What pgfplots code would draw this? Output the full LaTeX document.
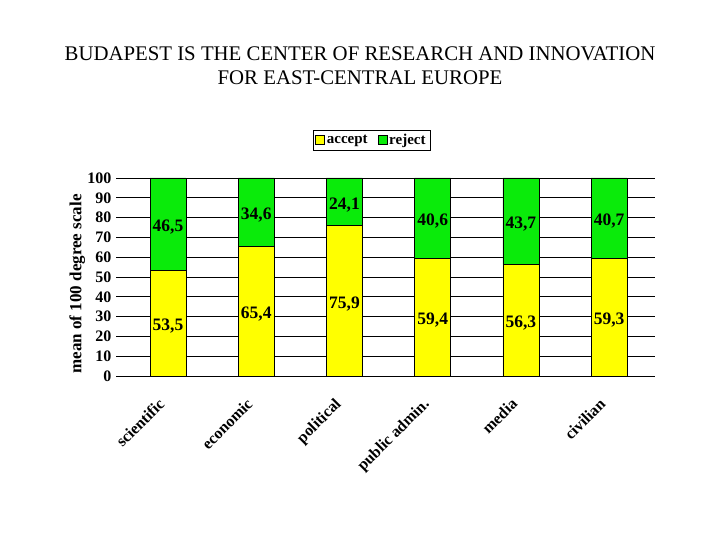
\documentclass[border=0pt]{standalone}
\usepackage{fontspec}
\setmainfont{Liberation Serif}
\usepackage{pgfplots}
\usepackage{pgfplotstable}
\pgfplotsset{compat=1.18}
\definecolor{acc}{RGB}{255,255,0}
\definecolor{rej}{RGB}{10,235,10}

\pgfplotstableread{
x accept reject
0 53.5 46.5
1 65.4 34.6
2 75.9 24.1
3 59.4 40.6
4 56.3 43.7
5 59.3 40.7
}\data

\pgfplotsset{
  common/.style={
    at={(116bp,164bp)}, anchor=south west,
    scale only axis, width=539bp, height=198bp,
    xmin=-0.59, xmax=5.52, ymin=0, ymax=100,
    /pgf/number format/assume math mode=true,
  }
}

\begin{document}
\begin{tikzpicture}
\useasboundingbox (0bp,0bp) rectangle (720bp,540bp);
\node[anchor=base, font=\fontsize{20.8bp}{24bp}\selectfont] at (360bp,479bp) {BUDAPEST IS THE CENTER OF RESEARCH AND INNOVATION};
\node[anchor=base, font=\fontsize{20.8bp}{24bp}\selectfont] at (360bp,455bp) {FOR EAST-CENTRAL EUROPE};
\begin{axis}[
  common,
  ybar stacked, bar width=0.408,
  axis x line*=bottom, axis y line*=left,
  y axis line style={draw=none},
  x axis line style={black, line width=0.8bp, -},
  ytick={0,10,...,100},
  ytick style={draw=none},
  yticklabel style={font=\bfseries\fontsize{16bp}{16bp}\selectfont, xshift=-1bp},
  ymajorgrids, grid style={black, line width=0.8bp},
  xtick=data,
  xticklabels={scientific,economic,political,public admin.,media,civilian},
  x tick style={draw=none},
  xticklabel style={font=\bfseries\fontsize{16bp}{16bp}\selectfont, rotate=45, anchor=north east, yshift=-4bp, xshift=-19bp},
  extra x ticks={0.5,1.5,4.5},
  extra x tick labels={},
  extra x tick style={tick align=outside, major tick length=7bp, tick style={draw=black, line width=0.8bp}, grid=none},
  ylabel={mean of 100 degree scale},
  ylabel style={font=\bfseries\fontsize{17bp}{17bp}\selectfont, at={(axis description cs:-0.072,0.465)}, anchor=center},
  legend columns=2,
  legend style={at={(0.474,1.19)}, anchor=center, draw=black, line width=0.8bp, font=\bfseries\fontsize{15bp}{15bp}\selectfont, inner sep=2.5bp, /tikz/every even column/.append style={column sep=8bp}},
  legend image code/.code={\draw[#1, draw=black, line width=0.5bp] (0bp,-4bp) rectangle (9bp,5bp);},
]
\addplot[fill=acc, draw=black, line width=0.6bp] table[x=x, y=accept]{\data};
\addplot[fill=rej, draw=black, line width=0.6bp] table[x=x, y=reject]{\data};
\legend{accept, reject}
\end{axis}
\begin{axis}[
  common, hide axis,
  point meta=explicit,
  nodes near coords={\pgfmathprintnumber[fixed,fixed zerofill,precision=1,use comma]{\pgfplotspointmeta}},
  nodes near coords align=center,
  every node near coord/.append style={font=\bfseries\fontsize{17.5bp}{17.5bp}\selectfont, text=black, anchor=center, yshift=-3bp},
]
\addplot[draw=none, mark=none, only marks] table[x=x, y expr=\thisrow{accept}/2, meta=accept]{\data};
\addplot[draw=none, mark=none, only marks] table[x=x, y expr=\thisrow{accept}+\thisrow{reject}/2, meta=reject]{\data};
\end{axis}
\end{tikzpicture}
\end{document}
